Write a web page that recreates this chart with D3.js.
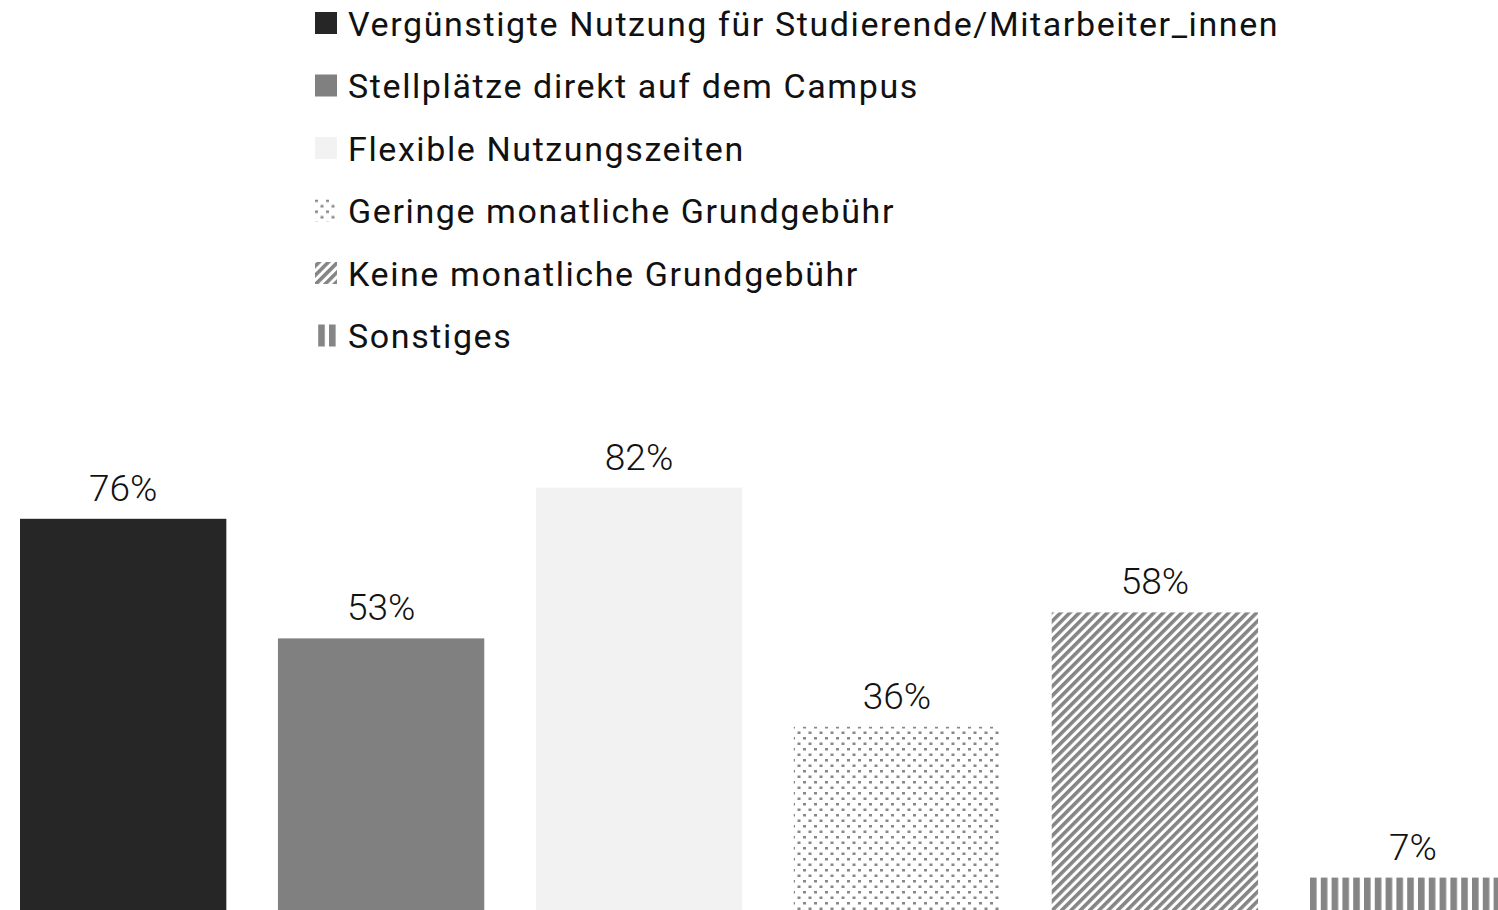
<!DOCTYPE html>
<html>
<head>
<meta charset="utf-8">
<script src="https://cdn.jsdelivr.net/npm/d3@7"></script>
<style>
  body { margin: 0; background: #fff; overflow: hidden; }
  text { font-family: Roboto, "Noto Sans", sans-serif; }
</style>
</head>
<body>
<div id="chart"></div>
<script>
// data
var categories = [
  "Vergünstigte Nutzung für Studierende/Mitarbeiter_innen",
  "Stellplätze direkt auf dem Campus",
  "Flexible Nutzungszeiten",
  "Geringe monatliche Grundgebühr",
  "Keine monatliche Grundgebühr",
  "Sonstiges"
];
var values = [76, 53, 82, 36, 58, 7];
var fills = ["#262626", "#808080", "#f2f2f2", "url(#dots)", "url(#diag)", "url(#vert)"];

var svgWidth = 1498;
var svgHeight = 910;

var svg = d3.select("#chart")
  .append("svg")
  .attr("width", svgWidth)
  .attr("height", svgHeight);

// patterns
var defs = svg.append("defs");

var dots = defs.append("pattern")
  .attr("id", "dots")
  .attr("patternUnits", "userSpaceOnUse")
  .attr("width", 11).attr("height", 11);
dots.append("rect").attr("x", 0).attr("y", 0).attr("width", 3).attr("height", 2.5).attr("fill", "#888");
dots.append("rect").attr("x", 5.5).attr("y", 5.5).attr("width", 3).attr("height", 2.5).attr("fill", "#888");

var diag = defs.append("pattern")
  .attr("id", "diag")
  .attr("patternUnits", "userSpaceOnUse")
  .attr("width", 6.6).attr("height", 6.6)
  .attr("patternTransform", "rotate(45)");
diag.append("rect").attr("x", 0).attr("y", 0).attr("width", 3.6).attr("height", 6.6).attr("fill", "#858585");

var vert = defs.append("pattern")
  .attr("id", "vert")
  .attr("patternUnits", "userSpaceOnUse")
  .attr("x", 1310)
  .attr("width", 10.8).attr("height", 10);
vert.append("rect").attr("x", 0).attr("y", 0).attr("width", 6.6).attr("height", 10).attr("fill", "#858585");

// scales
var xScale = d3.scaleBand()
  .domain(categories)
  .range([20, 1516])
  .paddingInner(0.2)
  .paddingOuter(0);

var yScale = d3.scaleLinear()
  .domain([0, 100])
  .range([914, 394]);

// bars
svg.append("g")
  .selectAll("rect")
  .data(values)
  .enter()
  .append("rect")
  .attr("x", (d, i) => xScale(categories[i]))
  .attr("y", d => yScale(d))
  .attr("width", xScale.bandwidth())
  .attr("height", d => yScale(0) - yScale(d))
  .attr("fill", (d, i) => fills[i]);

// value labels
svg.append("g")
  .selectAll("text")
  .data(values)
  .enter()
  .append("text")
  .attr("x", (d, i) => xScale(categories[i]) + xScale.bandwidth() / 2)
  .attr("y", d => yScale(d) - 18)
  .attr("text-anchor", "middle")
  .attr("font-size", "37px")
  .attr("font-weight", 300)
  .attr("fill", "#111")
  .text(d => d + "%");

// legend
var legend = svg.append("g")
  .attr("transform", "translate(315, 23)");

var item = legend.selectAll("g")
  .data(categories)
  .enter()
  .append("g")
  .attr("transform", (d, i) => `translate(0, ${i * 62.5})`);

item.append("rect")
  .attr("x", 0)
  .attr("y", -11)
  .attr("width", 22)
  .attr("height", 22)
  .attr("fill", (d, i) => fills[i]);

item.append("text")
  .attr("x", 33)
  .attr("y", 12.5)
  .attr("font-size", "34px")
  .attr("letter-spacing", "1.6px")
  .attr("fill", "#111")
  .text(d => d);
</script>
</body>
</html>
